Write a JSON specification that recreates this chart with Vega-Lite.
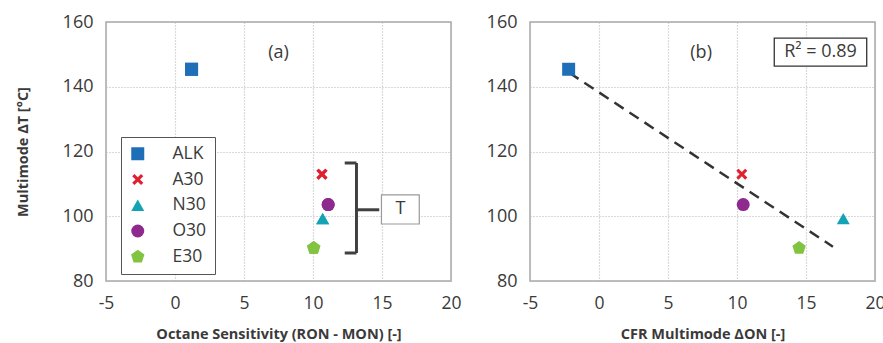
{
  "$schema": "https://vega.github.io/schema/vega-lite/v6.json",
  "padding": {"left": 14, "top": 12, "right": 5, "bottom": 5},
  "bounds": "flush",
  "spacing": 79,
  "background": "white",
  "datasets": {
    "fuels": [
      {"fuel": "ALK", "os": 1.2, "don": -2.2, "dT": 145.4},
      {"fuel": "A30", "os": 10.65, "don": 10.35, "dT": 113.0},
      {"fuel": "N30", "os": 10.7, "don": 17.7, "dT": 99.3},
      {"fuel": "O30", "os": 11.1, "don": 10.45, "dT": 103.6},
      {"fuel": "E30", "os": 10.05, "don": 14.5, "dT": 90.2}
    ],
    "bracket": [
      {"x": 13.15, "x2": 13.15, "y": 88.65, "y2": 116.45},
      {"x": 12.3, "x2": 13.15, "y": 116.45, "y2": 116.45},
      {"x": 12.3, "x2": 13.15, "y": 88.65, "y2": 88.65},
      {"x": 13.15, "x2": 14.8, "y": 102.0, "y2": 102.0}
    ],
    "fit": [
      {"don": -2.15, "dT": 144.3},
      {"don": 16.95, "dT": 90.6}
    ],
    "boxA": [{"x": 14.96, "x2": 17.7, "y": 97.6, "y2": 106.6, "label": "T", "cx": 16.33, "cy": 102.1}],
    "boxB": [{"x": 12.7, "x2": 19.4, "y": 146.4, "y2": 155.0, "label": "R² = 0.89", "cx": 16.05, "cy": 150.7}],
    "panelA": [{"x": 7.5, "y": 150.5, "label": "(a)"}],
    "panelB": [{"x": 7.4, "y": 150.5, "label": "(b)"}]
  },
  "hconcat": [
    {
      "width": 345,
      "height": 259,
      "layer": [
        {
          "data": {"name": "fuels"},
          "mark": {"type": "point", "filled": true, "opacity": 1, "size": 169, "strokeWidth": 0},
          "encoding": {
            "x": {
              "field": "os", "type": "quantitative",
              "scale": {"domain": [-5, 20], "nice": false, "zero": false},
              "axis": {"title": "Octane Sensitivity (RON - MON) [-]", "values": [-5, 0, 5, 10, 15, 20]}
            },
            "y": {
              "field": "dT", "type": "quantitative",
              "scale": {"domain": [80, 160], "nice": false, "zero": false},
              "axis": {"title": "Multimode ΔT [°C]", "values": [80, 100, 120, 140, 160]}
            },
            "color": {
              "field": "fuel", "type": "nominal",
              "scale": {"domain": ["ALK", "A30", "N30", "O30", "E30"], "range": ["#1f6fb8", "#e0202e", "#14a3b5", "#8e2a8e", "#82c341"]}
            },
            "shape": {
              "field": "fuel", "type": "nominal",
              "scale": {"domain": ["ALK", "A30", "N30", "O30", "E30"], "range": ["square", "M-0.85,-0.51L-0.51,-0.85L0,-0.34L0.51,-0.85L0.85,-0.51L0.34,0L0.85,0.51L0.51,0.85L0,0.34L-0.51,0.85L-0.85,0.51L-0.34,0Z", "triangle-up", "circle", "M0,-1.08L1.027,-0.334L0.635,0.874L-0.635,0.874L-1.027,-0.334Z"]}
            }
          }
        },
        {
          "description": "Key layer: its opacity scale leaves N30 and O30 without a legend symbol",
          "data": {"name": "fuels"},
          "mark": {"type": "point", "filled": true, "size": 169, "strokeWidth": 0},
          "encoding": {
            "x": {"field": "os", "type": "quantitative", "scale": {"domain": [-5, 20], "nice": false, "zero": false}},
            "y": {"field": "dT", "type": "quantitative", "scale": {"domain": [80, 160], "nice": false, "zero": false}},
            "color": {
              "field": "fuel", "type": "nominal",
              "legend": {
                "orient": "none", "legendX": 15, "legendY": 115,
                "title": null, "fillColor": "white", "strokeColor": "#555555",
                "padding": 8, "rowPadding": 6.75, "labelOffset": 26, "symbolSize": 169,
                "labelFont": "Open Sans", "labelFontSize": 17.5, "labelColor": "#3a3a3a",
                "symbolStrokeWidth": 0
              }
            },
            "shape": {"field": "fuel", "type": "nominal"},
            "opacity": {
              "field": "fuel", "type": "nominal",
              "scale": {"domain": ["ALK", "A30", "N30", "O30", "E30"], "range": [1, 1, 0, 0, 1]}
            }
          }
        },
        {
          "data": {"name": "bracket"},
          "mark": {"type": "rule", "color": "#404040", "strokeWidth": 3},
          "encoding": {
            "x": {"field": "x", "type": "quantitative", "scale": {"domain": [-5, 20], "nice": false, "zero": false}},
            "x2": {"field": "x2"},
            "y": {"field": "y", "type": "quantitative", "scale": {"domain": [80, 160], "nice": false, "zero": false}},
            "y2": {"field": "y2"}
          }
        },
        {
          "data": {"name": "boxA"},
          "mark": {"type": "rect", "fill": "white", "stroke": "#9a9a9a", "strokeWidth": 1.2},
          "encoding": {
            "x": {"field": "x", "type": "quantitative", "scale": {"domain": [-5, 20], "nice": false, "zero": false}},
            "x2": {"field": "x2"},
            "y": {"field": "y", "type": "quantitative", "scale": {"domain": [80, 160], "nice": false, "zero": false}},
            "y2": {"field": "y2"}
          }
        },
        {
          "data": {"name": "boxA"},
          "mark": {"type": "text", "font": "Open Sans", "fontSize": 18, "color": "#3a3a3a", "align": "center", "baseline": "middle"},
          "encoding": {
            "x": {"field": "cx", "type": "quantitative", "scale": {"domain": [-5, 20], "nice": false, "zero": false}},
            "y": {"field": "cy", "type": "quantitative", "scale": {"domain": [80, 160], "nice": false, "zero": false}},
            "text": {"field": "label"}
          }
        },
        {
          "data": {"name": "panelA"},
          "mark": {"type": "text", "font": "Open Sans", "fontSize": 18, "color": "#3a3a3a", "align": "center", "baseline": "middle"},
          "encoding": {
            "x": {"field": "x", "type": "quantitative", "scale": {"domain": [-5, 20], "nice": false, "zero": false}},
            "y": {"field": "y", "type": "quantitative", "scale": {"domain": [80, 160], "nice": false, "zero": false}},
            "text": {"field": "label"}
          }
        }
      ]
    },
    {
      "width": 345,
      "height": 259,
      "layer": [
        {
          "data": {"name": "fit"},
          "mark": {"type": "line", "color": "#333333", "strokeWidth": 2.5, "strokeDash": [11, 7]},
          "encoding": {
            "x": {"field": "don", "type": "quantitative", "scale": {"domain": [-5, 20], "nice": false, "zero": false}, "axis": {"title": "CFR Multimode ΔON [-]", "values": [-5, 0, 5, 10, 15, 20]}},
            "y": {"field": "dT", "type": "quantitative", "scale": {"domain": [80, 160], "nice": false, "zero": false}, "axis": {"title": null, "values": [80, 100, 120, 140, 160]}}
          }
        },
        {
          "data": {"name": "boxB"},
          "mark": {"type": "rect", "fill": "white", "stroke": "#333333", "strokeWidth": 1.3},
          "encoding": {
            "x": {"field": "x", "type": "quantitative", "scale": {"domain": [-5, 20], "nice": false, "zero": false}},
            "x2": {"field": "x2"},
            "y": {"field": "y", "type": "quantitative", "scale": {"domain": [80, 160], "nice": false, "zero": false}},
            "y2": {"field": "y2"}
          }
        },
        {
          "data": {"name": "boxB"},
          "mark": {"type": "text", "font": "Open Sans", "fontSize": 18, "color": "#3a3a3a", "align": "center", "baseline": "middle"},
          "encoding": {
            "x": {"field": "cx", "type": "quantitative", "scale": {"domain": [-5, 20], "nice": false, "zero": false}},
            "y": {"field": "cy", "type": "quantitative", "scale": {"domain": [80, 160], "nice": false, "zero": false}},
            "text": {"field": "label"}
          }
        },
        {
          "data": {"name": "panelB"},
          "mark": {"type": "text", "font": "Open Sans", "fontSize": 18, "color": "#3a3a3a", "align": "center", "baseline": "middle"},
          "encoding": {
            "x": {"field": "x", "type": "quantitative", "scale": {"domain": [-5, 20], "nice": false, "zero": false}},
            "y": {"field": "y", "type": "quantitative", "scale": {"domain": [80, 160], "nice": false, "zero": false}},
            "text": {"field": "label"}
          }
        },
        {
          "data": {"name": "fuels"},
          "mark": {"type": "point", "filled": true, "opacity": 1, "size": 169, "strokeWidth": 0},
          "encoding": {
            "x": {"field": "don", "type": "quantitative", "scale": {"domain": [-5, 20], "nice": false, "zero": false}},
            "y": {"field": "dT", "type": "quantitative", "scale": {"domain": [80, 160], "nice": false, "zero": false}},
            "color": {
              "field": "fuel", "type": "nominal",
              "scale": {"domain": ["ALK", "A30", "N30", "O30", "E30"], "range": ["#1f6fb8", "#e0202e", "#14a3b5", "#8e2a8e", "#82c341"]},
              "legend": null
            },
            "shape": {
              "field": "fuel", "type": "nominal",
              "scale": {"domain": ["ALK", "A30", "N30", "O30", "E30"], "range": ["square", "M-0.85,-0.51L-0.51,-0.85L0,-0.34L0.51,-0.85L0.85,-0.51L0.34,0L0.85,0.51L0.51,0.85L0,0.34L-0.51,0.85L-0.85,0.51L-0.34,0Z", "triangle-up", "circle", "M0,-1.08L1.027,-0.334L0.635,0.874L-0.635,0.874L-1.027,-0.334Z"]},
              "legend": null
            }
          }
        }
      ]
    }
  ],
  "resolve": {"scale": {"x": "independent", "y": "independent"}, "legend": {"color": "independent", "shape": "independent", "opacity": "independent"}},
  "config": {
    "view": {"stroke": "#a8a8a8", "strokeWidth": 1.5},
    "axis": {
      "grid": true, "gridColor": "#b5b5b5", "gridDash": [1, 2], "gridWidth": 1.2,
      "domain": false, "ticks": false,
      "labelFont": "Open Sans", "labelFontSize": 18, "labelColor": "#3a3a3a", "labelPadding": 13,
      "labelExpr": "'' + datum.value",
      "titleFont": "Open Sans", "titleFontWeight": "bold", "titleFontSize": 14.5, "titleColor": "#3a3a3a"
    },
    "axisX": {"titlePadding": 16, "labelFlush": false, "labelFontSize": 17.5},
    "axisY": {"titlePadding": 32, "labelFlush": false}
  }
}
